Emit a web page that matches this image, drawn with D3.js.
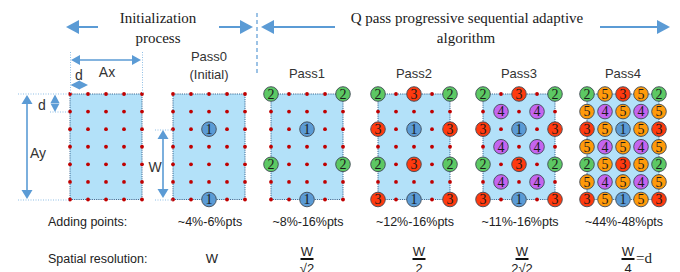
<!DOCTYPE html>
<html>
<head>
<meta charset="utf-8">
<script src="https://cdn.jsdelivr.net/npm/d3@7"></script>
<style>
  body { margin: 0; background: #fff; }
  svg { display: block; }
</style>
</head>
<body>
<div class="chart-area"></div>
<script>
// panel titles (first panel has none)
var passTitles = [[], ["Pass0", "(Initial)"], ["Pass1"], ["Pass2"], ["Pass3"], ["Pass4"]];
var addingLabels = ["", "~4%-6%pts", "~8%-16%pts", "~12%-16%pts", "~11%-16%pts", "~44%-48%pts"];
// spatial resolution: numerator / denominator (empty denominator = plain text)
var resNum = ["", "W", "W", "W", "W", "W"];
var resDen = ["", "", "\u221A2", "2", "2\u221A2", "4"];
// pass level at which each grid point (7 rows x 5 cols) gets sampled
var levels = [
    [2, 5, 3, 5, 2],
    [5, 4, 5, 4, 5],
    [3, 5, 1, 5, 3],
    [5, 4, 5, 4, 5],
    [2, 5, 3, 5, 2],
    [5, 4, 5, 4, 5],
    [3, 5, 1, 5, 3]
];
var levelColors = ["", "#5b9bd5", "#5cc863", "#ff3a0f", "#c464f0", "#ff9a0a"];
var panelLeft = [70, 173, 271, 378, 483, 587];
var fracShift = [0, 3, 0, 5, 3, 5];

var blue = "#5b9bd5";
var sans = "'Liberation Sans', Arial, sans-serif";
var serif = "'Liberation Serif', 'Times New Roman', serif";

var svg = d3.select(".chart-area").append("svg")
    .attr("width", 680)
    .attr("height", 272);

var x = d3.scaleLinear().domain([0, 4]).range([0, 72]);
var y = d3.scaleLinear().domain([0, 6]).range([94, 199.5]);

// flatten grid
var points = [];
levels.forEach(function(row, r) {
    row.forEach(function(lv, c) {
        points.push({ r: r, c: c, level: lv });
    });
});

// draw the panels
panelLeft.forEach(function(left, k) {
    var g = svg.append("g").attr("transform", "translate(" + left + ",0)");

    g.append("rect")
        .attr("x", x(0))
        .attr("y", y(0))
        .attr("width", x(4) - x(0))
        .attr("height", y(6) - y(0))
        .attr("fill", "#b3e1f9")
        .attr("stroke", "#3d6a94")
        .attr("stroke-width", 1)
        .attr("stroke-dasharray", "1.2,1");

    // red dots where no circle yet
    g.selectAll("circle.dot")
        .data(points.filter(function(p) { return p.level > k; }))
        .enter()
        .append("circle")
        .attr("class", "dot")
        .attr("cx", function(d) { return x(d.c); })
        .attr("cy", function(d) { return y(d.r); })
        .attr("r", 1.9)
        .attr("fill", "#c00000");

    var sampled = points.filter(function(p) { return p.level <= k; });
    var nodes = g.selectAll("g.node")
        .data(sampled)
        .enter()
        .append("g")
        .attr("class", "node")
        .attr("transform", function(d) { return "translate(" + x(d.c) + "," + y(d.r) + ")"; });

    nodes.append("circle")
        .attr("r", 7.3)
        .attr("fill", function(d) { return levelColors[d.level]; })
        .attr("stroke", "#404a55")
        .attr("stroke-width", 0.9);

    nodes.append("text")
        .attr("text-anchor", "middle")
        .attr("y", 4.8)
        .attr("font-family", serif)
        .attr("font-size", "14px")
        .attr("fill", "#1a1a1a")
        .text(function(d) { return d.level; });

    // titles
    var cx = left + 36;
    passTitles[k].forEach(function(t, i) {
        svg.append("text")
            .attr("x", cx)
            .attr("y", (passTitles[k].length == 2 ? 61 : 78) + i * 18)
            .attr("text-anchor", "middle")
            .attr("font-family", sans)
            .attr("font-size", "13px")
            .attr("fill", "#333")
            .text(t);
    });

    // adding points
    svg.append("text")
        .attr("x", cx + 1)
        .attr("y", 226)
        .attr("text-anchor", "middle")
        .attr("font-family", sans)
        .attr("font-size", "12.5px")
        .attr("fill", "#222")
        .text(addingLabels[k]);

    // spatial resolution
    var fx = cx + fracShift[k];
    if (resNum[k] && !resDen[k]) {
        svg.append("text")
            .attr("x", fx)
            .attr("y", 263)
            .attr("text-anchor", "middle")
            .attr("font-family", sans)
            .attr("font-size", "13px")
            .attr("fill", "#222")
            .text(resNum[k]);
    } else if (resNum[k]) {
        svg.append("text")
            .attr("x", fx)
            .attr("y", 256)
            .attr("text-anchor", "middle")
            .attr("font-family", sans)
            .attr("font-size", "13px")
            .attr("fill", "#222")
            .text(resNum[k]);
        svg.append("line")
            .attr("x1", fx - 6.5).attr("x2", fx + 6.5)
            .attr("y1", 259).attr("y2", 259)
            .attr("stroke", "#111")
            .attr("stroke-width", 2);
        svg.append("text")
            .attr("x", fx)
            .attr("y", 272.5)
            .attr("text-anchor", "middle")
            .attr("font-family", sans)
            .attr("font-size", "13px")
            .attr("fill", "#222")
            .text(resDen[k]);
        if (k == 5) {
            svg.append("text")
                .attr("x", fx + 8)
                .attr("y", 263)
                .attr("font-family", serif)
                .attr("font-size", "15px")
                .attr("fill", "#222")
                .text("=d");
        }
    }
});

// row labels
svg.append("text")
    .attr("x", 48).attr("y", 226)
    .attr("font-family", sans).attr("font-size", "12.5px").attr("fill", "#222")
    .text("Adding points:");
svg.append("text")
    .attr("x", 48).attr("y", 263)
    .attr("font-family", sans).attr("font-size", "12.5px").attr("fill", "#222")
    .text("Spatial resolution:");

// arrow helper: filled triangle head
function head(tipX, tipY, dir, len, half) {
    var pts;
    if (dir == "l") pts = [[tipX, tipY], [tipX + len, tipY - half], [tipX + len, tipY + half]];
    if (dir == "r") pts = [[tipX, tipY], [tipX - len, tipY - half], [tipX - len, tipY + half]];
    if (dir == "u") pts = [[tipX, tipY], [tipX - half, tipY + len], [tipX + half, tipY + len]];
    if (dir == "d") pts = [[tipX, tipY], [tipX - half, tipY - len], [tipX + half, tipY - len]];
    svg.append("path")
        .attr("d", d3.line()(pts) + "Z")
        .attr("fill", blue);
}
function hline(x1, x2, yy, w, dash, col) {
    svg.append("line")
        .attr("x1", x1).attr("x2", x2).attr("y1", yy).attr("y2", yy)
        .attr("stroke", col || blue).attr("stroke-width", w)
        .attr("stroke-dasharray", dash || null);
}
function vline(xx, y1, y2, w, dash, col) {
    svg.append("line")
        .attr("x1", xx).attr("x2", xx).attr("y1", y1).attr("y2", y2)
        .attr("stroke", col || blue).attr("stroke-width", w)
        .attr("stroke-dasharray", dash || null);
}

// top section arrows
hline(76, 98, 27, 2);
head(66, 27, "l", 13, 7);
hline(219, 243, 27, 2);
head(253, 27, "r", 13, 7);
vline(257, 13, 76, 1.2, "4,3");
hline(271, 335, 27, 2);
head(261, 27, "l", 13, 7);
hline(600, 660, 27, 2);
head(670, 27, "r", 13, 7);

// top texts
[["Initialization", 158, 23], ["process", 158, 43],
 ["Q pass progressive sequential adaptive", 467, 23], ["algorithm", 466, 43]].forEach(function(t) {
    svg.append("text")
        .attr("x", t[1]).attr("y", t[2])
        .attr("text-anchor", "middle")
        .attr("font-family", serif)
        .attr("font-size", "15px")
        .attr("fill", "#1a1a1a")
        .text(t[0]);
});

// dimension guides (dotted)
var guide = "#8fbfe6";
vline(70.5, 52, 94, 1, "1,1.5", guide);
vline(142.5, 52, 94, 1, "1,1.5", guide);
hline(18, 70, 94, 1, "1,1.5", guide);
hline(50, 70, 112, 1, "1,1.5", guide);
hline(18, 70, 200, 1, "1,1.5", guide);
hline(155, 173, 130, 1, "1,1.5", guide);
hline(155, 173, 200, 1, "1,1.5", guide);

// Ax
hline(78, 134, 60, 1.6);
head(71, 60, "l", 9, 5);
head(141, 60, "r", 9, 5);
// d horizontal
head(70.5, 85, "l", 9, 4.5);
head(88, 85, "r", 9, 4.5);
// d vertical
head(55, 94.5, "u", 8.5, 4.5);
head(55, 112, "d", 8.5, 4.5);
// Ay
vline(27, 102, 192, 1.6);
head(27, 95, "u", 9, 5.5);
head(27, 199, "d", 9, 5.5);
// W
vline(163, 137, 191, 1.6);
head(163, 130, "u", 9, 5.5);
head(163, 198, "d", 9, 5.5);

// dimension labels
[["Ax", 107, 77], ["d", 79, 80], ["d", 42, 110], ["Ay", 38, 158], ["W", 155, 172]].forEach(function(t) {
    svg.append("text")
        .attr("x", t[1]).attr("y", t[2])
        .attr("text-anchor", "middle")
        .attr("font-family", sans)
        .attr("font-size", "14px")
        .attr("fill", "#333")
        .text(t[0]);
});
</script>
</body>
</html>
